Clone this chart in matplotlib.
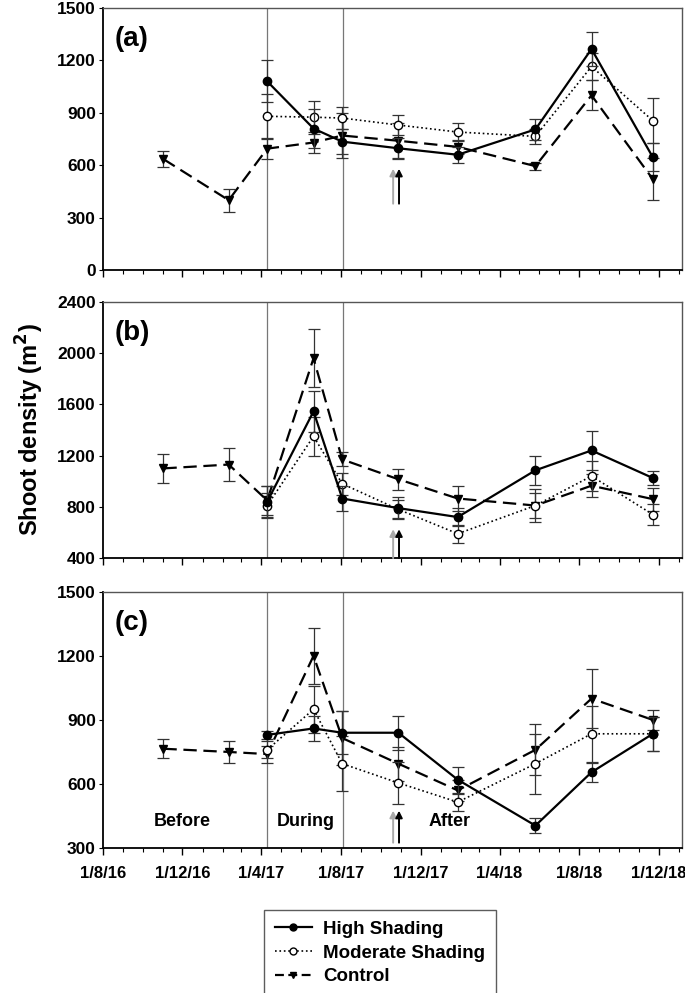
import numpy as np
import pandas as pd
import matplotlib
matplotlib.use("Agg")
import matplotlib.pyplot as plt
import matplotlib.dates as mdates
from matplotlib.lines import Line2D

plt.rcParams["font.family"] = ["Liberation Sans", "DejaVu Sans"]
plt.rcParams["font.weight"] = "bold"

# sampling dates (shared by all panels)
dates = pd.to_datetime([
    "2016-11-02", "2017-02-10", "2017-04-10", "2017-06-20", "2017-08-03",
    "2017-10-28", "2018-01-27", "2018-05-26", "2018-08-20", "2018-11-22",
])
nan = np.nan

# panel (a)
high_a = [nan, nan, 1080, 810, 735, 697, 660, 805, 1265, 645]
high_a_err = [nan, nan, 120, 110, 70, 60, 45, 60, 95, 80]
mod_a = [nan, nan, 880, 875, 870, 830, 790, 765, 1165, 855]
mod_a_err = [nan, nan, 130, 95, 65, 55, 50, 45, 80, 130]
ctrl_a = [635, 400, 695, 730, 770, 740, 705, 595, 1000, 520]
ctrl_a_err = [45, 65, 60, 60, 130, 100, 40, 20, 85, 120]

# panel (b)
high_b = [nan, nan, 840, 1545, 865, 790, 720, 1085, 1240, 1025]
high_b_err = [nan, nan, 120, 160, 100, 85, 70, 115, 150, 55]
mod_b = [nan, nan, 810, 1350, 980, 780, 590, 810, 1040, 740]
mod_b_err = [nan, nan, 100, 150, 85, 70, 70, 100, 115, 80]
ctrl_b = [1100, 1130, 850, 1960, 1170, 1015, 865, 810, 965, 860]
ctrl_b_err = [113, 130, 110, 225, 55, 80, 100, 130, 90, 90]

# panel (c)
high_c = [nan, nan, 830, 860, 840, 840, 620, 405, 655, 835]
high_c_err = [nan, nan, 20, 60, 100, 80, 60, 35, 45, 80]
mod_c = [nan, nan, 760, 950, 695, 605, 515, 695, 835, 835]
mod_c_err = [nan, nan, 40, 110, 130, 100, 40, 140, 130, 80]
ctrl_c = [765, 750, 740, 1200, 815, 695, 570, 760, 1000, 900]
ctrl_c_err = [45, 50, 40, 130, 125, 80, 50, 120, 140, 45]

panels = [
    ("(a)", (0, 1500), [0, 300, 600, 900, 1200, 1500],
     high_a, high_a_err, mod_a, mod_a_err, ctrl_a, ctrl_a_err, (380, 580)),
    ("(b)", (400, 2400), [400, 800, 1200, 1600, 2000, 2400],
     high_b, high_b_err, mod_b, mod_b_err, ctrl_b, ctrl_b_err, (400, 625)),
    ("(c)", (300, 1500), [300, 600, 900, 1200, 1500],
     high_c, high_c_err, mod_c, mod_c_err, ctrl_c, ctrl_c_err, (325, 475)),
]

phase_lines = pd.to_datetime(["2017-04-10", "2017-08-04"])
arrow_dates = pd.to_datetime(["2017-10-20", "2017-10-29"])
phase_labels = ["Before", "During", "After"]
phase_label_dates = pd.to_datetime(["2016-12-01", "2017-06-08", "2018-01-15"])

fig = plt.figure(figsize=(6.85, 9.93), dpi=100)
boxes = [(0.150, 0.728, 0.845, 0.264),
         (0.150, 0.438, 0.845, 0.258),
         (0.150, 0.146, 0.845, 0.258)]


def fmt_date(v, pos=None):
    d = mdates.num2date(v)
    return "{0}/{1}/{2}".format(d.day, d.month, d.strftime("%y"))


axes = []
for box, (lab, ylim, yticks, hi, hie, mo, moe, ct, cte, arr) in zip(boxes, panels):
    ax = fig.add_axes(box)
    axes.append(ax)
    for d in phase_lines:
        ax.axvline(d, color="#777777", lw=0.9, zorder=1)

    ax.errorbar(dates, ct, yerr=cte, color="black", ls=(0, (6, 3)), lw=1.6,
                marker="v", ms=6, mfc="black", mec="black",
                ecolor="#333333", elinewidth=0.9, capsize=4, capthick=0.9, zorder=3)
    ax.errorbar(dates, mo, yerr=moe, color="black", ls=":", lw=1.2,
                marker="o", ms=6, mfc="white", mec="black",
                ecolor="#333333", elinewidth=0.9, capsize=4, capthick=0.9, zorder=4)
    ax.errorbar(dates, hi, yerr=hie, color="black", ls="-", lw=1.6,
                marker="o", ms=6, mfc="black", mec="black",
                ecolor="#333333", elinewidth=0.9, capsize=4, capthick=0.9, zorder=5)

    # treatment arrows
    ax.annotate("", xy=(arrow_dates[0], arr[1]), xytext=(arrow_dates[0], arr[0]),
                arrowprops=dict(arrowstyle="-|>", color="#aaaaaa", lw=1.4,
                                mutation_scale=10, shrinkA=0, shrinkB=0))
    ax.annotate("", xy=(arrow_dates[1], arr[1]), xytext=(arrow_dates[1], arr[0]),
                arrowprops=dict(arrowstyle="-|>", color="black", lw=1.4,
                                mutation_scale=10, shrinkA=0, shrinkB=0))

    ax.set_ylim(*ylim)
    ax.set_yticks(yticks)
    ax.set_xlim(pd.Timestamp("2016-08-01"), pd.Timestamp("2019-01-05"))
    ax.xaxis.set_major_locator(mdates.MonthLocator(bymonth=[4, 8, 12]))
    ax.xaxis.set_minor_locator(mdates.MonthLocator())
    ax.xaxis.set_major_formatter(plt.FuncFormatter(fmt_date))
    ax.tick_params(axis="x", which="major", direction="out", length=5, width=1)
    ax.tick_params(axis="x", which="minor", direction="out", length=3, width=0.8)
    ax.tick_params(axis="y", direction="out", length=3, labelsize=12.5, pad=2)
    for s in ax.spines.values():
        s.set_color("#555555")
        s.set_linewidth(1.0)
    ax.spines["left"].set_color("black")
    ax.spines["bottom"].set_color("black")
    ax.spines["left"].set_linewidth(1.3)
    ax.spines["bottom"].set_linewidth(1.3)
    ax.text(0.02, 0.88, lab, transform=ax.transAxes, fontsize=20,
            fontweight="bold", va="center", ha="left")
    for t in ax.get_yticklabels():
        t.set_fontweight("bold")

for ax in axes[:2]:
    ax.tick_params(axis="x", labelbottom=False)
axes[2].tick_params(axis="x", labelsize=12, pad=8)
for t in axes[2].get_xticklabels():
    t.set_fontweight("bold")

for name, d in zip(phase_labels, phase_label_dates):
    axes[2].text(d, 425, name, fontsize=13, fontweight="bold",
                 ha="center", va="center")

axes[1].set_ylabel("Shoot density (m$^\\mathbf{2}$)", fontsize=17,
                   fontweight="bold", labelpad=8)

handles = [
    Line2D([], [], color="black", ls="-", lw=1.6, marker="o", ms=5,
           mfc="black", mec="black"),
    Line2D([], [], color="black", ls=":", lw=1.2, marker="o", ms=5,
           mfc="white", mec="black"),
    Line2D([], [], color="black", ls=(0, (4, 2)), lw=1.6, marker="v", ms=5,
           mfc="black", mec="black"),
]
leg = fig.legend(handles, ["High Shading", "Moderate Shading", "Control"],
                 loc="upper left", bbox_to_anchor=(0.372, 0.0926),
                 frameon=True, fancybox=False, handlelength=2.0,
                 handletextpad=0.6, borderpad=0.55, labelspacing=0.35,
                 prop={"weight": "bold", "size": 13.5})
leg.get_frame().set_edgecolor("#333333")
leg.get_frame().set_linewidth(1.0)

fig.savefig("out.png", dpi=100)
